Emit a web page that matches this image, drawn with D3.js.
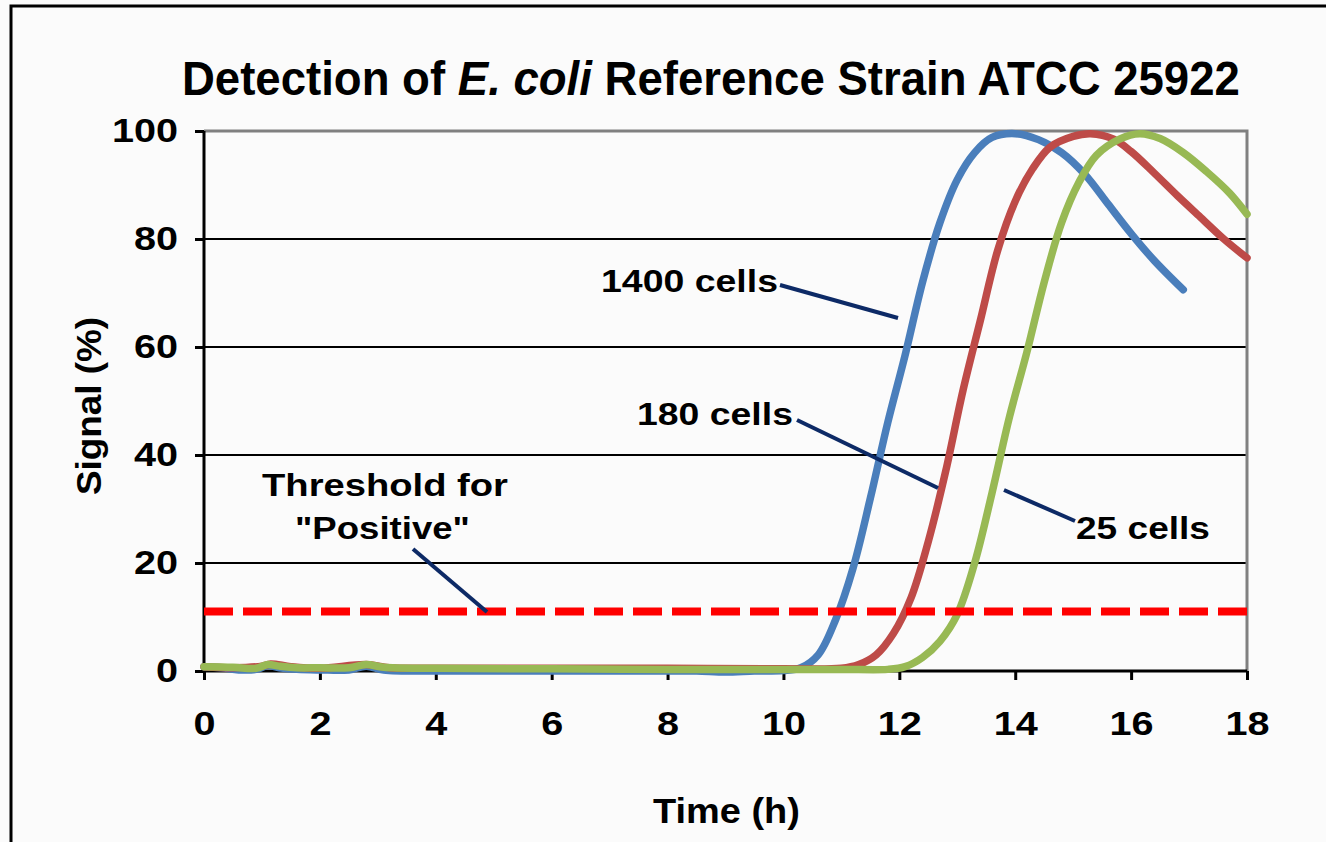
<!DOCTYPE html>
<html><head><meta charset="utf-8">
<script src="https://cdn.jsdelivr.net/npm/d3@7"></script>
<style>
body{margin:0;background:#fbfbfb}
svg{display:block}
text{font-family:"Liberation Sans",Arial,sans-serif;font-weight:bold;fill:#000}
</style>
</head><body>
<svg id="c" width="1326" height="842"></svg>
<script>
// ---- data ----
const xTickValues = [0, 2, 4, 6, 8, 10, 12, 14, 16, 18];
const yTickValues = [0, 20, 40, 60, 80, 100];
const thresholdValue = 11;
const seriesNames = ["1400 cells", "180 cells", "25 cells"];

const cells1400 = [[0,0.8],[0.3,0.6],[0.6,0.2],[0.9,0.3],[1.1,1.0],[1.3,0.6],[1.6,0.3],[2,0.2],[2.5,0.2],[2.8,0.9],[3.1,0.2],[4,0],[5,0],[6,0],[7,0],[8,0],[8.5,0],[9,-0.2],[9.5,0],[10,0.1],[10.3,0.6],[10.6,3],[10.9,9.5],[11.2,19],[11.5,32],[11.8,46],[12.1,58.5],[12.4,72],[12.7,83],[13.0,91],[13.3,96],[13.6,98.8],[14.0,99.5],[14.4,98.4],[14.8,96],[15.2,92],[15.6,86.5],[16.0,81],[16.4,76],[16.9,70.6]];
const cells180 = [[0,0.8],[0.5,0.6],[1.0,0.9],[1.15,1.3],[1.5,0.8],[2,0.5],[2.8,1.2],[3.2,0.6],[4,0.5],[6,0.5],[8,0.5],[10,0.4],[11,0.5],[11.3,1.2],[11.6,3],[11.9,7],[12.2,13.5],[12.5,24],[12.8,37],[13.1,52],[13.4,65],[13.7,78],[14.0,87],[14.3,93],[14.6,97],[15.0,99],[15.3,99.5],[15.7,98.5],[16.0,96.2],[16.4,92.2],[16.8,88],[17.2,84],[17.6,80],[18,76.5]];
const cells25 = [[0,0.8],[0.5,0.7],[0.9,0.5],[1.1,1.2],[1.3,0.9],[1.6,0.6],[2,0.6],[2.5,0.6],[2.8,1.2],[3.1,0.7],[4,0.5],[6,0.4],[8,0.3],[10,0.3],[11,0.3],[11.8,0.3],[12.1,0.8],[12.4,2.5],[12.7,5.5],[13.0,10.5],[13.3,20],[13.6,33],[13.9,47],[14.2,59],[14.5,72],[14.8,83],[15.1,90.5],[15.4,95.5],[15.8,98.5],[16.15,99.5],[16.5,98.6],[16.9,96],[17.3,92.5],[17.7,88.5],[18,84.6]];

const seriesData = [cells1400, cells180, cells25];
const seriesColors = ["#4a7ebb", "#be4b48", "#98b954"];

// ---- layout ----
const svg = d3.select("#c");
const L = 204, R = 1247, T = 131, B = 671;
const x = d3.scaleLinear().domain([0, 18]).range([L, R]);
const y = d3.scaleLinear().domain([0, 100]).range([B, T]);

function fit(sel, x0, x1) {
  const n = sel.node();
  const bb = n.getBBox();
  const s = (x1 - x0) / bb.width;
  const cx = bb.x;
  sel.attr("transform", `translate(${x0},0) scale(${s},1) translate(${-cx},0)`);
}

// outer frame
svg.append("rect").attr("x", 11).attr("y", 6).attr("width", 1400).attr("height", 900)
  .attr("fill", "#fbfbfb").attr("stroke", "#000").attr("stroke-width", 3);

// gridlines
svg.append("g").selectAll("line").data(yTickValues.filter(d => d > 0 && d < 100)).join("line")
  .attr("x1", L).attr("x2", R).attr("y1", d => y(d)).attr("y2", d => y(d))
  .attr("stroke", "#000").attr("stroke-width", 2);
// plot border top/right (gray)
svg.append("path").attr("d", `M${L},${T}H${R}V${B}`).attr("fill", "none")
  .attr("stroke", "#808080").attr("stroke-width", 3);

// axes
const yAxis = svg.append("g").attr("transform", `translate(${L},0)`)
  .call(d3.axisLeft(y).tickValues(yTickValues).tickSize(9).tickPadding(17));
const xAxis = svg.append("g").attr("transform", `translate(0,${B})`)
  .call(d3.axisBottom(x).tickValues(xTickValues).tickSize(9).tickPadding(32));
[yAxis, xAxis].forEach(g => {
  g.select(".domain").attr("stroke", "#000").attr("stroke-width", 3);
  g.selectAll(".tick line").attr("stroke", "#000").attr("stroke-width", 3);
  g.selectAll(".tick text").attr("font-size", 33).attr("font-family", "Liberation Sans, Arial, sans-serif")
    .attr("font-weight", "bold").attr("fill", "#000");
});
yAxis.selectAll(".tick text").attr("transform", "translate(-26,0) scale(1.2,1) translate(26,0)");
xAxis.selectAll(".tick text").attr("transform", "scale(1.2,1)");
xAxis.select(".domain").attr("d", `M${L},0H${R}`);
yAxis.select(".domain").attr("d", `M0,${B}V${T}`);

// series
const line = d3.line().x(d => x(d[0])).y(d => y(d[1])).curve(d3.curveCatmullRom.alpha(0.5));
svg.append("g").selectAll("path").data(seriesData).join("path")
  .attr("d", line).attr("fill", "none")
  .attr("stroke", (d, i) => seriesColors[i]).attr("stroke-width", 7.5)
  .attr("stroke-linecap", "round").attr("stroke-linejoin", "round");

// threshold
svg.append("line").attr("x1", x(0)).attr("x2", x(18))
  .attr("y1", y(thresholdValue)).attr("y2", y(thresholdValue))
  .attr("stroke", "#ff0000").attr("stroke-width", 8).attr("stroke-dasharray", "29,10");

// annotation leader lines
const navy = "#0d2a66";
const leaders = [[780, 285, 898, 318], [797, 420, 938, 488], [1075, 521, 1004, 490], [413, 549, 487, 612]];
svg.append("g").selectAll("line").data(leaders).join("line")
  .attr("x1", d => d[0]).attr("y1", d => d[1]).attr("x2", d => d[2]).attr("y2", d => d[3])
  .attr("stroke", navy).attr("stroke-width", 4);

// annotation labels
function label(txt, x0, x1, base, size) {
  const t = svg.append("text").attr("x", x0).attr("y", base).attr("font-size", size).text(txt);
  fit(t, x0, x1);
  return t;
}
label(seriesNames[0], 601, 778, 292, 32);
label(seriesNames[1], 637, 793, 425, 32);
label(seriesNames[2], 1076, 1210, 539, 32);
label("Threshold for", 262, 508, 496, 32);
label("\"Positive\"", 295, 470, 539, 32);

// title
const title = svg.append("text").attr("x", 182).attr("y", 95).attr("font-size", 49);
title.append("tspan").text("Detection of ");
title.append("tspan").attr("font-style", "italic").text("E. coli");
title.append("tspan").text(" Reference Strain ATCC 25922");
fit(title, 182, 1240);

// axis titles
const xt = svg.append("text").attr("x", 653).attr("y", 823).attr("font-size", 35).text("Time (h)");
fit(xt, 653, 800);
const yg = svg.append("g").attr("transform", "translate(101,406) rotate(-90)");
const yt = yg.append("text").attr("x", -89).attr("y", 0).attr("font-size", 35).text("Signal (%)");
fit(yt, -89, 89);
</script>
</body></html>
